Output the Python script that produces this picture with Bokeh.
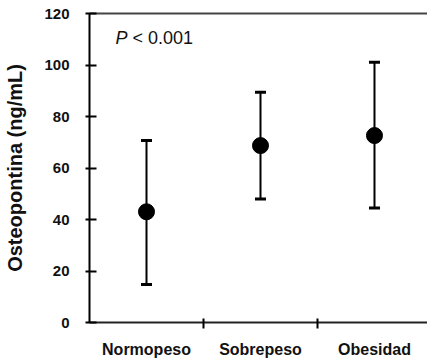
from bokeh.plotting import figure
from bokeh.models import (ColumnDataSource, Range1d, FixedTicker, LinearAxis,
                          Whisker, TeeHead, Label)
from bokeh.embed import file_html
from bokeh.resources import INLINE

# Data
categories = ["Normopeso", "Sobrepeso", "Obesidad"]
means = [43, 68.7, 72.6]
upper = [70.7, 89.4, 101.1]
lower = [14.8, 48.0, 44.5]
y_ticks = [0, 20, 40, 60, 80, 100, 120]

FONT = "Liberation Sans"

xs = [i + 0.5 for i in range(len(categories))]
src = ColumnDataSource(dict(x=xs, m=means, up=upper, lo=lower))

p = figure(width=427, height=360, output_backend="svg", toolbar_location=None,
           x_range=Range1d(0, 2.965), y_range=Range1d(0, 120),
           min_border_left=89, min_border_right=0, min_border_top=13,
           min_border_bottom=38, x_axis_location=None, y_axis_location=None)
p.outline_line_color = None
p.xgrid.visible = False
p.ygrid.visible = False

# bottom axis: labels at category centres, tick marks at category boundaries
xaxis = LinearAxis(ticker=FixedTicker(ticks=xs, minor_ticks=[1, 2]),
                   major_label_overrides={x: c for x, c in zip(xs, categories)})
xaxis.major_tick_in = 0
xaxis.major_tick_out = 0
xaxis.minor_tick_in = 4
xaxis.minor_tick_out = 6
xaxis.minor_tick_line_color = "black"
xaxis.minor_tick_line_width = 2
xaxis.axis_line_color = "#222222"
xaxis.axis_line_width = 2
xaxis.major_label_text_font = FONT
xaxis.major_label_text_font_style = "bold"
xaxis.major_label_text_font_size = "16px"
xaxis.major_label_text_color = "#111111"
xaxis.major_label_standoff = 12
p.add_layout(xaxis, "below")

yaxis = LinearAxis(ticker=FixedTicker(ticks=y_ticks), axis_label="Osteopontina (ng/mL)")
yaxis.major_tick_in = 7
yaxis.major_tick_out = 4
yaxis.minor_tick_line_color = None
yaxis.major_tick_line_width = 2
yaxis.major_tick_line_color = "black"
yaxis.axis_line_color = "black"
yaxis.axis_line_width = 2
yaxis.major_label_text_font = FONT
yaxis.major_label_text_font_style = "bold"
yaxis.major_label_text_font_size = "15px"
yaxis.major_label_text_color = "#111111"
yaxis.major_label_standoff = 16
yaxis.axis_label_text_font = FONT
yaxis.axis_label_text_font_style = "bold"
yaxis.axis_label_text_font_size = "20px"
yaxis.axis_label_text_color = "#111111"
yaxis.axis_label_standoff = 15
p.add_layout(yaxis, "left")

# top border line
top = LinearAxis(ticker=FixedTicker(ticks=[]))
top.major_tick_in = 0
top.major_tick_out = 0
top.minor_tick_line_color = None
top.major_label_text_font_size = "0px"
top.major_label_standoff = 0
top.axis_line_color = "#444444"
top.axis_line_width = 2
p.add_layout(top, "above")

w = Whisker(source=src, base="x", upper="up", lower="lo", dimension="height",
            line_color="black", line_width=2,
            upper_head=TeeHead(size=11, line_width=3, line_color="black"),
            lower_head=TeeHead(size=11, line_width=3, line_color="black"))
p.add_layout(w)

p.scatter("x", "m", source=src, size=16, color="black")

p.add_layout(Label(x=0.228, y=110.3, text="P", text_font=FONT, text_font_style="italic",
                   text_font_size="18px", text_baseline="middle", text_color="#111111"))
p.add_layout(Label(x=0.228, y=110.3, x_offset=17, text="< 0.001", text_font=FONT,
                   text_font_size="18px", text_baseline="middle", text_color="#111111"))

open("out.html", "w").write(file_html(p, INLINE))
